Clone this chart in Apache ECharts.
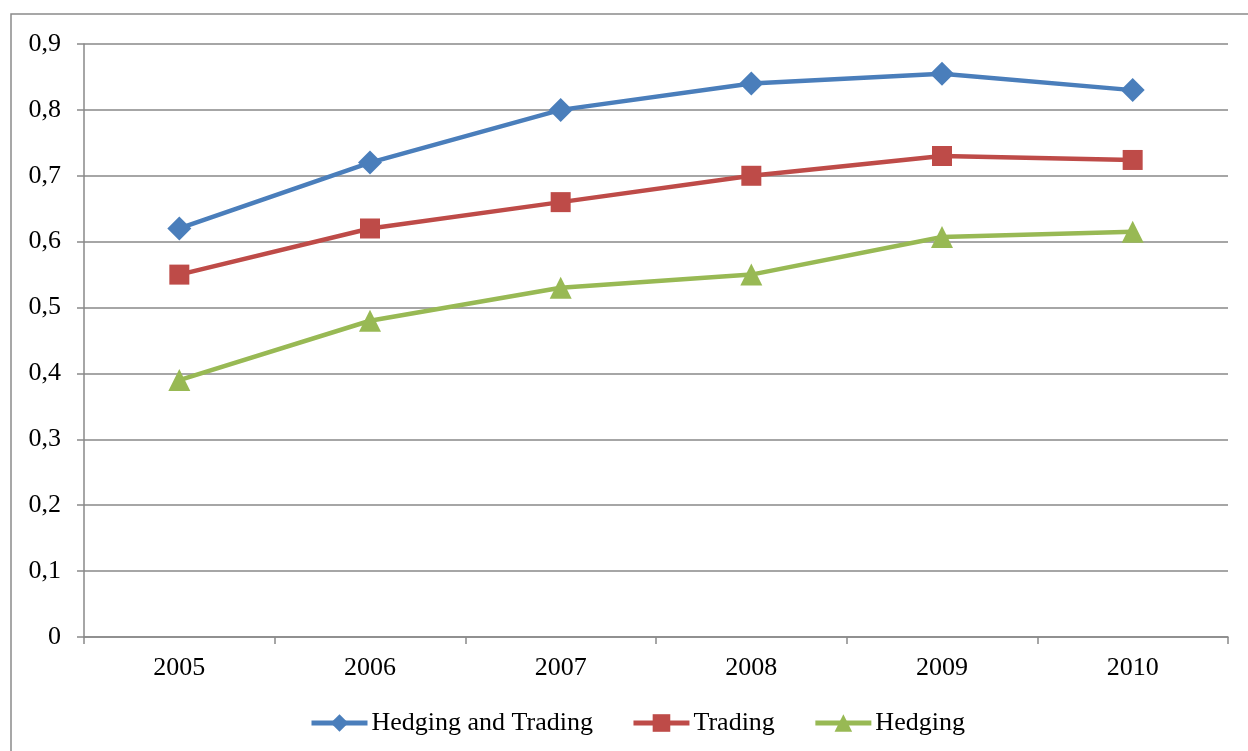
<!DOCTYPE html>
<html>
<head>
<meta charset="utf-8">
<script src="https://cdn.jsdelivr.net/npm/echarts@6/dist/echarts.min.js"></script>
<style>
  html, body { margin: 0; padding: 0; background: #fff; }
  #chart { width: 1248px; height: 751px; }
</style>
</head>
<body>
<div id="chart"></div>
<script>
// Years on the category axis
const years = ['2005', '2006', '2007', '2008', '2009', '2010'];

// Series values
const hedgingAndTrading = [0.62, 0.72, 0.80, 0.84, 0.855, 0.83];
const trading = [0.55, 0.62, 0.66, 0.70, 0.73, 0.724];
const hedging = [0.39, 0.48, 0.53, 0.55, 0.607, 0.615];

// Value-axis range
const yMin = 0;
const yMax = 0.9;
const yStep = 0.1;

const FONT = '"Liberation Serif", "Times New Roman", serif';
const GRID_COLOR = '#898989';

const chart = echarts.init(document.getElementById('chart'), null, { renderer: 'canvas' });

function lineSeries(name, data, color, symbol, size) {
  return {
    name: name,
    type: 'line',
    data: data,
    symbol: symbol,
    symbolSize: size,
    lineStyle: { color: color, width: 4.5 },
    itemStyle: { color: color },
    emphasis: { disabled: true },
    animation: false
  };
}

chart.setOption({
  animation: false,
  graphic: [{
    type: 'rect',
    shape: { x: 11, y: 14, width: 1300, height: 800 },
    style: { fill: 'none', stroke: '#8a8a8a', lineWidth: 1.5 },
    silent: true
  }],
  grid: { left: 84, right: 20, top: 44, bottom: 114, containLabel: false },
  legend: {
    bottom: 10,
    left: 304,
    itemWidth: 56,
    itemHeight: 22,
    itemGap: 38,
    lineStyle: { width: 5 },
    textStyle: { fontFamily: FONT, fontSize: 26, color: '#000', padding: [0, 0, 0, -1] },
    data: ['Hedging and Trading', 'Trading', 'Hedging']
  },
  xAxis: {
    type: 'category',
    data: years,
    boundaryGap: true,
    axisLine: { lineStyle: { color: GRID_COLOR, width: 1.5 } },
    axisTick: { show: true, length: 7, lineStyle: { color: GRID_COLOR, width: 1.5 } },
    axisLabel: { fontFamily: FONT, fontSize: 26, color: '#000', margin: 18 },
    splitLine: { show: false }
  },
  yAxis: {
    type: 'value',
    min: yMin,
    max: yMax,
    interval: yStep,
    axisLine: { show: true, lineStyle: { color: GRID_COLOR, width: 1.5 } },
    axisTick: { show: true, length: 7, lineStyle: { color: GRID_COLOR, width: 1.5 } },
    axisLabel: {
      fontFamily: FONT, fontSize: 26, color: '#000', margin: 23,
      formatter: function (v) { return (Math.round(v * 10) / 10).toString().replace('.', ','); }
    },
    splitLine: { show: true, lineStyle: { color: GRID_COLOR, width: 1.5 } }
  },
  series: [
    lineSeries('Hedging and Trading', hedgingAndTrading, '#4A7EBB', 'diamond', 24),
    lineSeries('Trading', trading, '#BE4B48', 'rect', 20),
    lineSeries('Hedging', hedging, '#98B954', 'triangle', 22)
  ]
});
</script>
</body>
</html>
